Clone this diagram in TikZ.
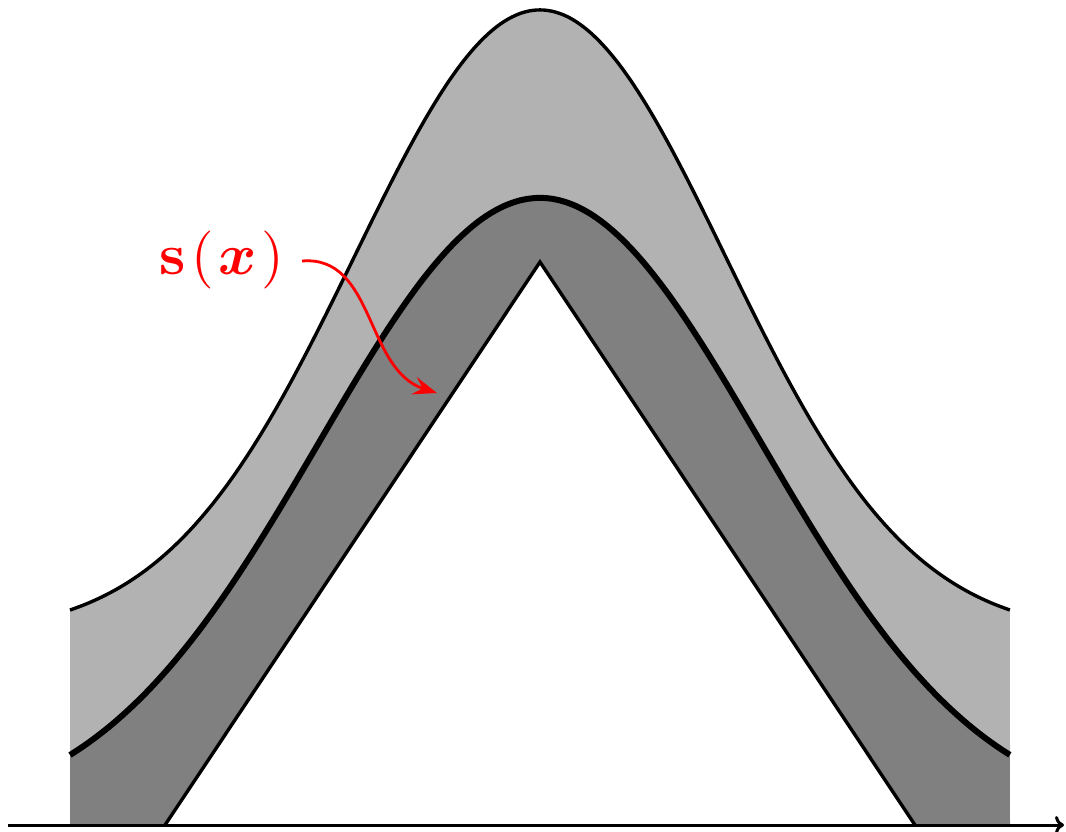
\documentclass[tikz,border=0pt]{standalone}
\usepackage{amsmath,bm}
\usetikzlibrary{arrows.meta}
\begin{document}
\begin{tikzpicture}[x=1pt,y=-1pt,
  thinline/.style={line width=3.4pt,black},
  thickline/.style={line width=6pt,black},
  lightfill/.style={fill=black!30},
  darkfill/.style={fill=black!50},
  redarrow/.style={red,line width=2.8pt,-{Stealth[length=24pt,width=18pt,inset=9pt]}},
  axisarrow/.style={line width=3pt,-{To[length=9pt,width=18pt,line width=3pt]}}]
\useasboundingbox (0,0) rectangle (1066,831);
% dark region below the middle curve
\path[darkfill] plot[domain=-4.7:4.7,samples=120,smooth] ({540+100*\x},{820-622*exp(-\x*\x/9.783)})
  -- (1010,825) -- (70,825) -- cycle;
% light region between upper and middle curves
\path[lightfill] plot[domain=-4.7:4.7,samples=120,smooth] ({540+100*\x},{635-625*exp(-\x*\x/6.8624)})
  -- plot[domain=4.7:-4.7,samples=120,smooth] ({540+100*\x},{820-622*exp(-\x*\x/9.783)}) -- cycle;
% triangle
\coordinate (tl) at (165,825);
\coordinate (tp) at (540,262);
\coordinate (tr) at (915,825);
\fill[white] (tl) -- (tp) -- (tr) -- cycle;
\draw[thinline,line join=miter] (tl) -- (tp) -- (tr);
% curves
\draw[thinline] plot[domain=-4.7:4.7,samples=120,smooth] ({540+100*\x},{635-625*exp(-\x*\x/6.8624)});
\draw[thickline] plot[domain=-4.7:4.7,samples=120,smooth] ({540+100*\x},{820-622*exp(-\x*\x/9.783)});
% axis
\coordinate (ax0) at (8,825);
\coordinate (ax1) at (1064,825);
\draw[axisarrow] (ax0) -- (ax1);
% label
\node[red,anchor=center,scale=5.8,inner sep=0pt] (lbl) at (222,260) {$\mathbf{s}\mkern1.5mu(\mkern1.5mu\bm{x}\mkern1.5mu)$};
\coordinate (a0) at (302,261);
\coordinate (a1) at (437,393);
\draw[redarrow] (a0) .. controls (375,255) and (365,370) .. (a1);
\end{tikzpicture}
\end{document}
